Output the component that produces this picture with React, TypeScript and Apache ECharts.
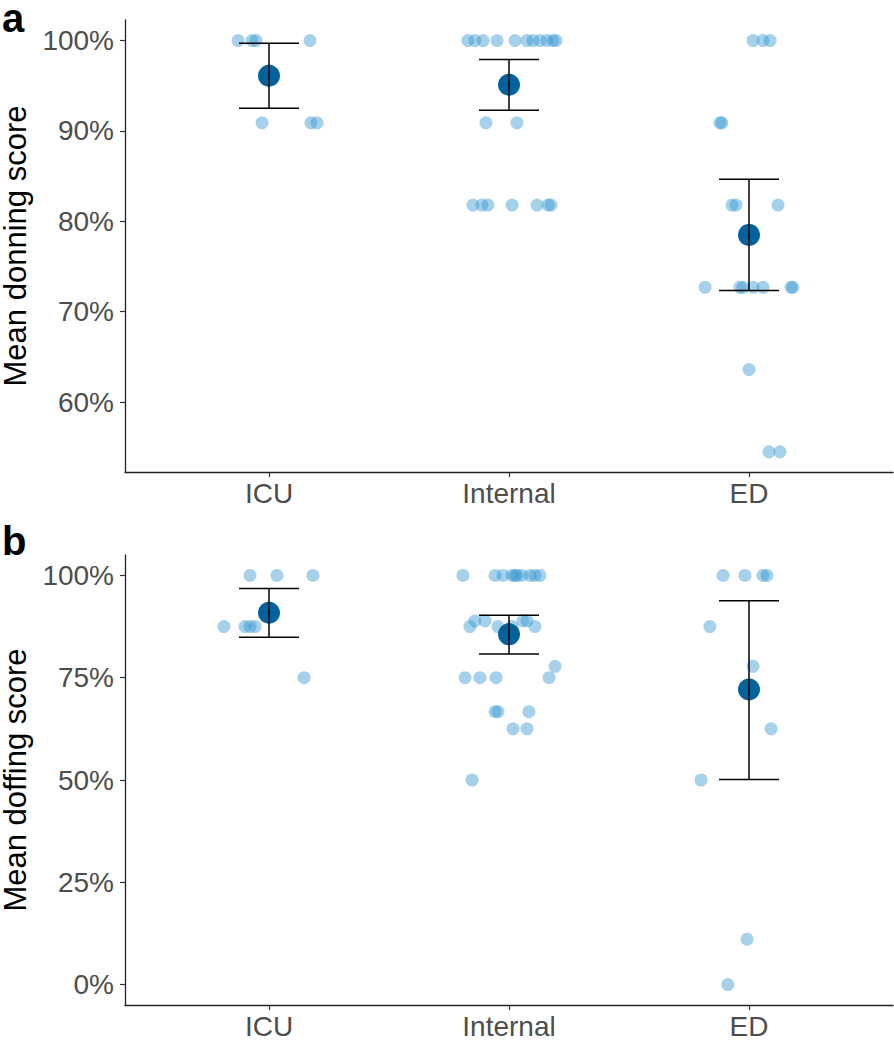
import React, { useEffect, useRef } from "react";
import * as echarts from "echarts";

const groups = ["ICU", "Internal", "ED"];

// [groupIndex, score %, horizontal jitter in category units]
const donningPoints: [number, number, number][] = [
  [0, 100, -0.129], [0, 100, -0.071], [0, 100, -0.054], [0, 100, 0.171],
  [0, 90.9, -0.029], [0, 90.9, 0.175], [0, 90.9, 0.2],
  [1, 100, -0.171], [1, 100, -0.142], [1, 100, -0.108], [1, 100, -0.05], [1, 100, 0.025],
  [1, 100, 0.075], [1, 100, 0.1], [1, 100, 0.129], [1, 100, 0.158], [1, 100, 0.183], [1, 100, 0.196],
  [1, 90.9, -0.096], [1, 90.9, 0.033],
  [1, 81.8, -0.15], [1, 81.8, -0.113], [1, 81.8, -0.088], [1, 81.8, 0.013], [1, 81.8, 0.117],
  [1, 81.8, 0.163], [1, 81.8, 0.175],
  [2, 100, 0.017], [2, 100, 0.058], [2, 100, 0.088],
  [2, 90.9, -0.121], [2, 90.9, -0.113],
  [2, 81.8, -0.071], [2, 81.8, -0.054], [2, 81.8, 0.121],
  [2, 72.7, -0.183], [2, 72.7, -0.038], [2, 72.7, -0.025], [2, 72.7, 0.017], [2, 72.7, 0.058],
  [2, 72.7, 0.175], [2, 72.7, 0.183],
  [2, 63.6, 0.0],
  [2, 54.5, 0.083], [2, 54.5, 0.129],
];
const donningMean = [96.1, 95.1, 78.5];
const donningLow = [92.5, 92.3, 72.35];
const donningHigh = [99.7, 97.9, 84.65];

const doffingPoints: [number, number, number][] = [
  [0, 100, -0.079], [0, 100, 0.033], [0, 100, 0.183],
  [0, 87.5, -0.188], [0, 87.5, -0.1], [0, 87.5, -0.079], [0, 87.5, -0.058],
  [0, 75, 0.146],
  [1, 100, -0.192], [1, 100, -0.058], [1, 100, -0.025], [1, 100, 0.013], [1, 100, 0.025],
  [1, 100, 0.033], [1, 100, 0.054], [1, 100, 0.088], [1, 100, 0.108], [1, 100, 0.129],
  [1, 87.5, -0.163], [1, 87.5, -0.046], [1, 87.5, 0.013], [1, 87.5, 0.108],
  [1, 88.9, -0.142], [1, 88.9, -0.1], [1, 88.9, 0.058], [1, 88.9, 0.075],
  [1, 77.8, 0.192],
  [1, 75, -0.183], [1, 75, -0.121], [1, 75, -0.054], [1, 75, 0.167],
  [1, 66.7, -0.058], [1, 66.7, -0.046], [1, 66.7, 0.083],
  [1, 62.5, 0.017], [1, 62.5, 0.075],
  [1, 50, -0.154],
  [2, 100, -0.108], [2, 100, -0.017], [2, 100, 0.058], [2, 100, 0.075],
  [2, 87.5, -0.163],
  [2, 77.8, 0.017],
  [2, 62.5, 0.092],
  [2, 50, -0.2],
  [2, 11.1, -0.008],
  [2, 0, -0.088],
];
const doffingMean = [90.9, 85.6, 72.1];
const doffingLow = [84.9, 80.8, 50.1];
const doffingHigh = [96.8, 90.3, 93.8];

const donningTicks = [60, 70, 80, 90, 100];
const doffingTicks = [0, 25, 50, 75, 100];

const FONT = "Liberation Sans, Arial, sans-serif";
const POINT_COLOR = "rgba(50,150,210,0.55)";
const MEAN_COLOR = "#02629b";

function makeXAxis(gridIndex: number) {
  return {
    type: "value",
    gridIndex,
    min: 0.4,
    max: 3.6,
    splitLine: { show: false },
    axisLine: { show: true, onZero: false, lineStyle: { color: "#222", width: 1.3 } },
    axisTick: { show: true, length: 5, customValues: [1, 2, 3], lineStyle: { color: "#333", width: 1.2 } },
    axisLabel: {
      show: true,
      customValues: [1, 2, 3],
      formatter: (v: number) => groups[Math.round(v) - 1] ?? "",
      color: "#4d4d4d",
      fontSize: 28,
      fontFamily: FONT,
      margin: 7,
    },
  };
}

function makeYAxis(gridIndex: number, min: number, max: number, ticks: number[], name: string) {
  return {
    type: "value",
    gridIndex,
    min,
    max,
    name,
    nameLocation: "middle",
    nameRotate: 90,
    nameGap: 88,
    nameTextStyle: { color: "#000", fontSize: 31, fontFamily: FONT },
    splitLine: { show: false },
    axisLine: { show: true, onZero: false, lineStyle: { color: "#222", width: 1.3 } },
    axisTick: { show: true, length: 5, customValues: ticks, lineStyle: { color: "#333", width: 1.2 } },
    axisLabel: {
      show: true,
      customValues: ticks,
      formatter: (v: number) => `${v}%`,
      color: "#4d4d4d",
      fontSize: 28,
      fontFamily: FONT,
      margin: 11,
    },
  };
}

function panelSeries(
  idx: number,
  points: [number, number, number][],
  means: number[],
  lows: number[],
  highs: number[]
) {
  return [
    {
      type: "scatter",
      xAxisIndex: idx,
      yAxisIndex: idx,
      symbolSize: 13,
      itemStyle: { color: POINT_COLOR },
      data: points.map(([g, v, j]) => [g + 1 + j, v]),
      z: 2,
    },
    {
      type: "scatter",
      xAxisIndex: idx,
      yAxisIndex: idx,
      symbolSize: 22,
      itemStyle: { color: MEAN_COLOR, opacity: 1 },
      data: means.map((m, i) => [i + 1, m]),
      z: 3,
    },
    {
      type: "custom",
      xAxisIndex: idx,
      yAxisIndex: idx,
      z: 4,
      encode: { x: 0, y: [1, 2] },
      data: means.map((_, i) => [i + 1, lows[i], highs[i]]),
      renderItem: (_params: any, api: any) => {
        const x = api.value(0);
        const lo = api.value(1);
        const hi = api.value(2);
        const pLo = api.coord([x, lo]);
        const pHi = api.coord([x, hi]);
        const l = api.coord([x - 0.125, lo])[0];
        const r = api.coord([x + 0.125, lo])[0];
        const style = { stroke: "#000", lineWidth: 1.5 };
        return {
          type: "group",
          children: [
            { type: "line", shape: { x1: pLo[0], y1: pLo[1], x2: pHi[0], y2: pHi[1] }, style },
            { type: "line", shape: { x1: l, y1: pLo[1], x2: r, y2: pLo[1] }, style },
            { type: "line", shape: { x1: l, y1: pHi[1], x2: r, y2: pHi[1] }, style },
          ],
        };
      },
    },
  ];
}

export default function App() {
  const ref = useRef<HTMLDivElement>(null);
  useEffect(() => {
    if (!ref.current) return;
    const chart = echarts.init(ref.current, null, { renderer: "svg" });
    chart.setOption({
      animation: false,
      backgroundColor: "#fff",
      grid: [
        { left: 125, top: 20, width: 768, height: 452, containLabel: false, outerBoundsMode: "none" },
        { left: 125, top: 555, width: 768, height: 450, containLabel: false, outerBoundsMode: "none" },
      ],
      xAxis: [makeXAxis(0), makeXAxis(1)],
      yAxis: [
        makeYAxis(0, 52.27, 102.27, donningTicks, "Mean donning score"),
        makeYAxis(1, -5, 105, doffingTicks, "Mean doffing score"),
      ],
      graphic: [
        {
          type: "text",
          left: 2,
          top: -2,
          style: { text: "a", fontSize: 40, fontWeight: "bold", fontFamily: FONT, fill: "#000" },
        },
        {
          type: "text",
          left: 2,
          top: 521,
          style: { text: "b", fontSize: 40, fontWeight: "bold", fontFamily: FONT, fill: "#000" },
        },
      ],
      series: [
        ...panelSeries(0, donningPoints, donningMean, donningLow, donningHigh),
        ...panelSeries(1, doffingPoints, doffingMean, doffingLow, doffingHigh),
      ],
    });
    return () => chart.dispose();
  }, []);
  return (
    <div
      ref={ref}
      style={{ position: "fixed", left: 0, top: 0, width: 894, height: 1040, background: "#fff" }}
    />
  );
}
